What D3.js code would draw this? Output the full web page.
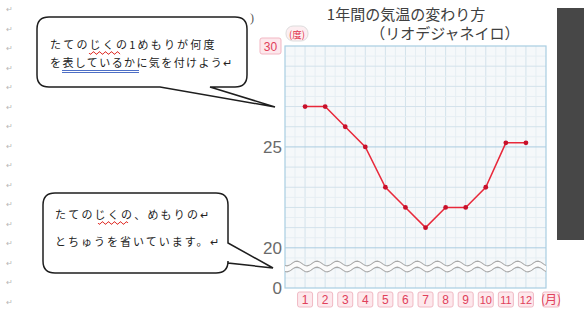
<!DOCTYPE html>
<html>
<head>
<meta charset="utf-8">
<script src="https://cdn.jsdelivr.net/npm/d3@7"></script>
<style>
  body { margin: 0; background: #fff; }
  svg { display: block; }
</style>
</head>
<body>
<div id="holder"></div>
<script>
// chart data
const months = [1, 2, 3, 4, 5, 6, 7, 8, 9, 10, 11, 12];
const monthLabels = ["1", "2", "3", "4", "5", "6", "7", "8", "9", "10", "11", "12"];
const temps = [27, 27, 26, 25, 23, 22, 21, 22, 22, 23, 25.2, 25.2];
const yTicks = [0, 20, 25, 30];
const titleLines = ["1年間の気温の変わり方", "（リオデジャネイロ）"];
const bubble1Lines = ["たてのじくの1めもりが何度", "を表しているかに気を付けよう↵"];
const bubble2Lines = ["たてのじくの、めもりの↵", "とちゅうを省いています。↵"];

const width = 584, height = 316;
const jp = "'Noto Sans CJK JP', sans-serif";

const svg = d3.select("#holder").append("svg")
    .attr("width", width).attr("height", height);

// paragraph marks down the left margin
svg.selectAll("text.pm")
    .data(d3.range(16))
    .enter().append("text")
    .attr("class", "pm")
    .attr("x", 6).attr("y", i => 12 + i * 19.5)
    .attr("font-size", 8).attr("fill", "#b8b8b8")
    .attr("font-family", jp)
    .text("↵");

svg.append("text").attr("x", 250).attr("y", 22)
    .attr("font-size", 12).attr("fill", "#555").text(")");

// scales
const x = d3.scaleLinear().domain([0, 13]).range([285, 546]);
const y = d3.scaleLinear().domain([0, 19, 30]).range([288, 268, 46]);

// plot background + grid
const plot = svg.append("g");
plot.append("rect")
    .attr("x", x(0)).attr("y", y(30))
    .attr("width", x(13) - x(0)).attr("height", y(0) - y(30))
    .attr("fill", "#f5f8fa");

const vMinor = d3.range(0.5, 13, 1);
const vMajor = d3.range(1, 13, 1);
plot.selectAll("line.vminor").data(vMinor).enter().append("line")
    .attr("x1", d => x(d)).attr("x2", d => x(d))
    .attr("y1", y(30)).attr("y2", y(0))
    .attr("stroke", "#e6eef3").attr("stroke-width", 1);
plot.selectAll("line.vmajor").data(vMajor).enter().append("line")
    .attr("x1", d => x(d)).attr("x2", d => x(d))
    .attr("y1", y(30)).attr("y2", y(0))
    .attr("stroke", "#d3e2eb").attr("stroke-width", 1);

const hMinor = d3.range(19.5, 30, 1).concat([9.5]);
const hMajor = d3.range(19, 30, 1);
plot.selectAll("line.hminor").data(hMinor).enter().append("line")
    .attr("x1", x(0)).attr("x2", x(13))
    .attr("y1", d => y(d)).attr("y2", d => y(d))
    .attr("stroke", "#e6eef3");
plot.selectAll("line.hmajor").data(hMajor).enter().append("line")
    .attr("x1", x(0)).attr("x2", x(13))
    .attr("y1", d => y(d)).attr("y2", d => y(d))
    .attr("stroke", d => (d === 25 || d === 20) ? "#abcce0" : "#d3e2eb");

plot.append("rect")
    .attr("x", x(0)).attr("y", y(30))
    .attr("width", x(13) - x(0)).attr("height", y(0) - y(30))
    .attr("fill", "none").attr("stroke", "#a8cde2").attr("stroke-width", 1.2);

// wavy break
const wave = (y0) => d3.range(0, 13.01, 0.1).map(m => [x(m), y0 + 2.4 * Math.sin(m * 2 * Math.PI + 1)]);
const w1 = wave(263.5), w2 = wave(269.5);
plot.append("path")
    .attr("d", d3.line()(w1.concat(w2.slice().reverse())) + "Z")
    .attr("fill", "#fbfbfb");
[w1, w2].forEach(w => {
    plot.append("path").attr("d", d3.line()(w))
        .attr("fill", "none").attr("stroke", "#a8a8a8").attr("stroke-width", 1.1);
});

// data line
const pts = months.map((m, i) => [m, temps[i]]);
svg.append("path")
    .datum(pts)
    .attr("d", d3.line().x(d => x(d[0])).y(d => y(d[1])))
    .attr("fill", "none").attr("stroke", "#e8283a").attr("stroke-width", 1.5);
svg.selectAll("circle.dot").data(pts).enter().append("circle")
    .attr("class", "dot")
    .attr("cx", d => x(d[0])).attr("cy", d => y(d[1]))
    .attr("r", 2.4).attr("fill", "#c8102a");

// y labels
const yl = svg.append("g");
yTicks.forEach(t => {
    if (t === 30) {
        yl.append("rect").attr("x", 260).attr("y", y(t) - 8)
            .attr("width", 21).attr("height", 16).attr("rx", 2)
            .attr("fill", "#fde8ec").attr("stroke", "#f2b7c3");
        yl.append("text").attr("x", 270.5).attr("y", y(t) + 4.5)
            .attr("text-anchor", "middle").attr("font-size", 12)
            .attr("font-family", "'Liberation Sans', sans-serif")
            .attr("fill", "#e0405a").text(t);
    } else {
        yl.append("text").attr("x", 282).attr("y", y(t) + 6)
            .attr("text-anchor", "end").attr("font-size", 17)
            .attr("font-family", "'Liberation Sans', sans-serif")
            .attr("fill", "#6a6a6a").text(t);
    }
});
// (度)
yl.append("rect").attr("x", 286).attr("y", 26).attr("width", 22).attr("height", 15)
    .attr("rx", 7).attr("fill", "#fdeef1").attr("stroke", "#ddd");
yl.append("text").attr("x", 297).attr("y", 37.5).attr("text-anchor", "middle")
    .attr("font-size", 9.5).attr("font-family", jp).attr("fill", "#e0304a").text("(度)");

// x labels
const xl = svg.append("g");
const xlabs = monthLabels.concat(["(月)"]);
xlabs.forEach((lab, i) => {
    const cx = i < 12 ? x(months[i]) : x(13) + 5;
    const w = i < 12 ? 15 : 17;
    xl.append("rect").attr("x", cx - w / 2).attr("y", 292).attr("width", w).attr("height", 15)
        .attr("rx", 2).attr("fill", "#fde8ec").attr("stroke", "#f0b9c4");
    xl.append("text").attr("x", cx).attr("y", 304).attr("text-anchor", "middle")
        .attr("font-size", lab.length > 1 && i < 12 ? 11 : 12)
        .attr("font-family", i < 12 ? "'Liberation Sans', sans-serif" : jp)
        .attr("fill", "#e0405a").text(lab);
});

// title
titleLines.forEach((t, i) => {
    svg.append("text").attr("x", i === 0 ? 406 : 445).attr("y", i === 0 ? 20 : 39)
        .attr("text-anchor", "middle").attr("font-size", 15)
        .attr("font-family", jp).attr("fill", "#404040").text(t);
});

// dark block on the right
svg.append("rect").attr("x", 557).attr("y", 8).attr("width", 27).attr("height", 232)
    .attr("fill", "#474747");

// speech bubbles
function bubble(x0, y0, x1, y1, tail) {
    const r = 12;
    let p = `M${x0 + r},${y0} H${x1 - r} Q${x1},${y0} ${x1},${y0 + r}`;
    if (tail.side === "right") {
        p += ` V${tail.a} L${tail.tx},${tail.ty} L${x1},${tail.b} V${y1 - r}`;
    } else {
        p += ` V${y1 - r}`;
    }
    p += ` Q${x1},${y1} ${x1 - r},${y1}`;
    if (tail.side === "bottom") {
        p += ` H${tail.b} L${tail.tx},${tail.ty} L${tail.a},${y1}`;
    }
    p += ` H${x0 + r} Q${x0},${y1} ${x0},${y1 - r} V${y0 + r} Q${x0},${y0} ${x0 + r},${y0} Z`;
    svg.append("path").attr("d", p).attr("fill", "#fff")
        .attr("stroke", "#1e1e1e").attr("stroke-width", 1.5);
}
bubble(37, 17, 247, 87, { side: "bottom", a: 160, b: 210, tx: 275, ty: 107 });
bubble(43, 193, 228, 273, { side: "right", a: 243, b: 263, tx: 273, ty: 268 });

function bubbleText(lines, x0, ys, sp) {
    lines.forEach((t, i) => {
        svg.append("text").attr("x", x0).attr("y", ys[i])
            .attr("font-size", 11).attr("letter-spacing", sp[i])
            .attr("font-family", jp).attr("fill", "#222").text(t);
    });
}
bubbleText(bubble1Lines, 50, [49, 67], [2.2, 1.4]);
bubbleText(bubble2Lines, 55, [219, 246], [2.2, 2.0]);

// squiggly and double underlines
function squiggle(x0, x1, y0) {
    const pts = d3.range(x0, x1 + 0.1, 1).map(v => [v, y0 + 1.3 * Math.sin((v - x0) * Math.PI / 3)]);
    svg.append("path").attr("d", d3.line()(pts)).attr("fill", "none")
        .attr("stroke", "#e0302a").attr("stroke-width", 1);
}
squiggle(89, 120, 53);
squiggle(98, 128, 223);
[70.5, 72.5].forEach(v => {
    svg.append("line").attr("x1", 62).attr("x2", 139).attr("y1", v).attr("y2", v)
        .attr("stroke", "#3a5fc0").attr("stroke-width", 0.9);
});
</script>
</body>
</html>
